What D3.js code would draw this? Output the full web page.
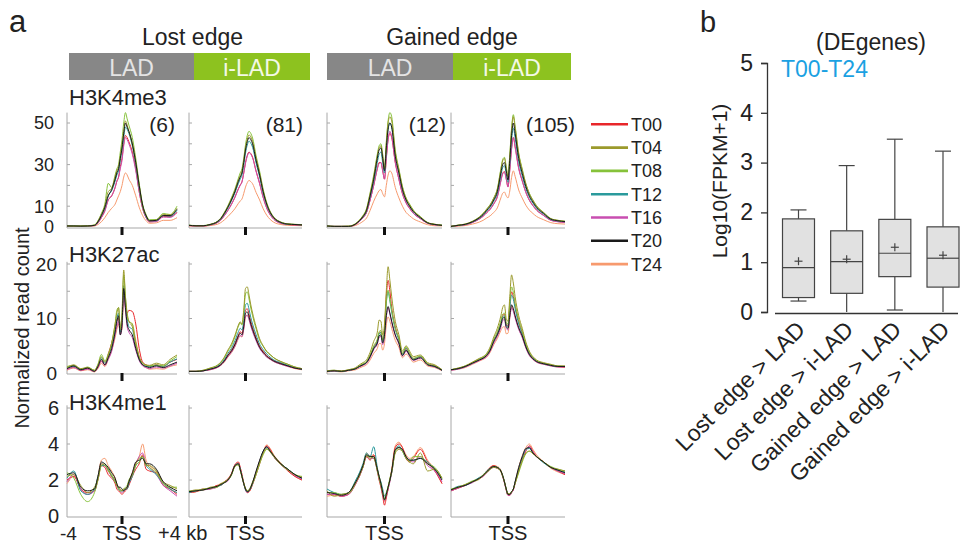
<!DOCTYPE html>
<html><head><meta charset="utf-8">
<script src="https://cdn.jsdelivr.net/npm/d3@7"></script>
<style>body{margin:0;background:#fff;} svg{display:block;font-family:"Liberation Sans",Arial,sans-serif;}</style>
</head><body><svg id="c" width="960" height="547"></svg>
<script>
// ---------------- DATA ----------------
const timepoints = ["T00","T04","T08","T12","T16","T20","T24"];
const xKb = [-4,-3.5,-3,-2.5,-2,-1.75,-1.5,-1.25,-1,-0.75,-0.5,-0.375,-0.25,-0.125,0,0.125,0.25,0.375,0.5,0.75,1,1.25,1.5,1.75,2,2.5,3,3.5,4];
const marks = ["H3K4me3","H3K27ac","H3K4me1"];
const edgeGroups = ["Lost edge","Gained edge"];
const domainLabels = ["LAD","i-LAD"];
const geneCounts = ["(6)","(81)","(12)","(105)"];
const k4me3Ticks = [0,10,30,50];
const k27acTicks = [0,10,20];
const k4me1Ticks = [0,2,4,6];

// H3K4me3, series order T00,T04,T08,T12,T16,T20,T24
const k4me3_lostLAD = [
 [0.4,0.4,0.4,0.5,0.7,2,4.5,8,13,15,19,22,24,29,33,40,44,43,41,36,28,17,9,4.5,2.5,2.8,5,5,7],
 [0.5,0.4,0.5,0.5,0.9,2.8,6,10,17,18.5,24,27,29,34,39,46,51,49,46,40,31,20,10,5.5,3,3.4,6,5.8,9],
 [0.6,0.5,0.5,0.6,1,3,6.5,11,21,19,25,28,30,36,42,50,55,52,49,43,33,21,11,6,3.5,3.6,6.5,6,10],
 [0.5,0.5,0.5,0.5,0.8,2.4,5.5,9,15,17.5,22,25,27,32,37,43,48,47,45,39,30,19,10,5,3,3,5.5,5.2,8],
 [0.4,0.4,0.4,0.5,0.7,2,4.5,7.5,13,15,19,22,24,28,32,39,43,42,40,35,27,17,9,4.5,2.5,2.6,4.8,4.6,7],
 [0.5,0.5,0.4,0.5,0.8,2.5,5.5,9.5,15,18,23,26,28,33,38,45,50,48,46,40,31,20,10.5,5.5,3,3.2,5.5,5.5,8.5],
 [0.3,0.3,0.3,0.4,0.5,1.2,2.5,4.5,7,9,11,13,15,17,20,24,26,25,23,20,15,9.5,5.5,3,1.8,2,3.2,3.2,4.5]];
const k4me3_lostILAD = [
 [0.7,0.5,0.5,1,2.1,3.4,5.5,8,10.9,14.3,18.5,20.2,21.8,26,31,34.4,36,35.3,33.6,26.9,21,14.3,9.2,5.9,3.8,1.8,1.2,1,0.8],
 [0.8,0.6,0.6,1.2,2.6,4.1,6.7,9.8,13.4,17.5,22.7,24.7,26.8,32,38,42.2,44.3,43.3,41.2,33,25.8,17.5,11.3,7.2,4.6,2.3,1.5,1.2,1],
 [0.9,0.7,0.7,1.3,2.7,4.3,7,10.2,14,18.2,23.5,26,28,33,39.5,44,46,45,42.8,34.2,26.8,18.2,11.8,7.5,4.8,2.4,1.5,1.3,1.1],
 [0.8,0.6,0.6,1.1,2.4,3.8,6.2,9.1,12.5,16.3,21,23,25,29.8,35.5,39.4,41.3,40.3,38.4,30.7,24,16.3,10.6,6.7,4.3,2.1,1.3,1.2,1],
 [0.7,0.5,0.5,1,2.1,3.3,5.4,7.9,10.8,14.2,18.3,20,21.6,25.8,30.6,34,35.8,35,33.3,26.6,20.8,14.2,9.1,5.8,3.7,1.8,1.2,1,0.8],
 [0.8,0.6,0.6,1.2,2.5,4,6.5,9.5,13,17,22,24,26,31,37,41,43,42,40,32,25,17,11,7,4.5,2.2,1.4,1.2,1],
 [0.5,0.4,0.4,0.7,1.3,2.1,3.4,5,6.8,8.8,11.4,12.5,13.5,16.1,19.2,21.3,22.4,21.8,20.8,16.6,13,8.8,5.7,3.6,2.3,1.2,0.8,0.7,0.6]];
const k4me3_gainLAD = [
 [0.4,0.3,0.3,0.3,1.3,2.6,4.4,7,13,20,28,31,31,27,23,33,42,45,43,31,23,16,11.7,9,6.7,4,1.8,1.1,0.7],
 [0.5,0.3,0.3,0.4,1.6,3.2,5.3,8.5,16,24,34,38,39,34,28,40,50,53,51,36,27.5,19,13.8,10.6,8,4.8,2.1,1.3,0.8],
 [0.5,0.3,0.3,0.4,1.7,3.3,5.5,8.8,16.5,25,35,39,40,35,28,41,51,55,53,37,28,19.5,14,11,8.2,5,2.2,1.3,0.9],
 [0.5,0.3,0.3,0.3,1.5,2.9,4.8,7.8,14.5,22,31,35,36,31,26,37,47,50,48,35,26,18,13,9.8,7.4,4.4,2,1.2,0.8],
 [0.4,0.3,0.3,0.3,1.3,2.6,4.4,7,13,20,28,30.5,31,27,23,33,42,46,43.5,31,23,16,11.5,8.8,6.6,4,1.8,1,0.7],
 [0.5,0.3,0.3,0.3,1.5,3,5,8,15,23,33,37,38,33,27,38,47,50,48,34,26,18,13,10,7.5,4.5,2,1.2,0.8],
 [0.3,0.2,0.2,0.2,0.8,1.6,2.7,4.3,8,12.4,16,17.5,18,16,14.5,20,25,27,26,19,14,10,7,5.4,4,2.4,1.1,0.6,0.5]];
const k4me3_gainILAD = [
 [0.3,0.7,1.1,2.2,3.9,5.2,6.9,8.6,11.2,14.6,22.4,25.8,26.7,23.2,19.4,27.5,37.8,43,38.7,28.4,22.2,16.8,12.9,10.3,8.2,5.6,3.3,2.6,2.2],
 [0.3,0.9,1.4,2.7,4.8,6.4,8.5,10.6,13.8,18,27.6,31.8,33,28.6,24,34,46.6,53,47.7,35,27.3,20.7,15.9,12.7,10,6.9,4,3.2,2.7],
 [0.3,0.9,1.4,2.7,4.9,6.5,8.6,10.8,14,18.4,28,32.4,33.5,29,24.4,34.6,47.5,54,48.6,35.6,27.9,21,16.2,13,10.3,7,4.1,3.2,2.8],
 [0.3,0.8,1.2,2.4,4.3,5.7,7.6,9.5,12.4,16.2,24.7,28.5,29.5,25.6,21.5,30.4,41.8,47.5,42.8,31.4,24.5,18.5,14.3,11.4,9,6.2,3.6,2.9,2.5],
 [0.3,0.7,1.1,2.1,3.9,5.1,6.8,8.5,11,14.4,22,25.5,26.3,23,19.2,27.2,37.4,43,38.2,28,22,16.6,12.8,10.2,8.1,5.5,3.2,2.5,2.2],
 [0.3,0.8,1.3,2.5,4.5,6,8,10,13,17,26,30,31,27,22.6,32,44,50,45,33,25.8,19.5,15,12,9.5,6.5,3.8,3,2.6],
 [0.2,0.4,0.7,1.4,2.4,3.2,4.3,5.4,7,9.2,14,16.2,16.8,15,14,17.3,23.8,27,24.3,17.8,13.9,10.5,8.1,6.5,5.1,3.5,2.1,1.6,1.4]];

// H3K27ac
const k27ac_lostLAD = [
 [0.7,1.1,0.5,0.8,0.4,1,2.2,1.5,3.5,5.5,8,9.5,10,7.5,9,16,12.5,11,11.5,11.3,9,4.5,2,1.5,1.2,1.5,1.2,2,2.5],
 [1,1.5,0.8,1,0.5,1.5,3,2,3.2,5.5,9,11,12,8,11,18.9,14,11,9.5,8.5,5.5,3,1.8,1.5,1.4,1.8,1.5,2.5,3.3],
 [1.2,1.4,0.7,1.1,0.5,1.6,3.4,2.2,3.5,5.5,9,11.5,12,8.5,10.5,18,14,10.5,9.5,9,5.5,2.8,1.8,1.4,1.3,1.5,1.3,2.2,3],
 [0.9,1.2,0.6,1,0.4,1.3,2.8,1.8,3,5,8,10,11,7.5,9.5,16,13,10,8.5,8,5,2.6,1.6,1.2,1.2,1.4,1.2,2,2.6],
 [0.6,1,0.5,0.7,0.3,1,2.2,1.4,2.5,4,7,8.5,9.5,7,8.5,15,11.5,8.5,7.5,6.5,4.2,2.3,1.3,1,0.8,1.1,0.9,1.3,1.8],
 [0.8,1.3,0.6,0.9,0.3,1.2,2.5,1.5,2.8,4.5,7.5,9.5,10.5,7,9,15.5,12,9,8,7,4.5,2.5,1.5,1.2,1,1.3,1,1.5,2],
 [0.5,0.9,0.4,0.6,0.2,0.8,1.8,1.2,2.5,4.2,6.5,8,9,7.5,8,14.5,12,10,9.5,9,6,3,1.5,1,0.7,0.8,0.7,1.2,1.5]];
const k27ac_lostILAD = [
 [0.3,0.3,0.4,0.7,1.1,1.6,2.3,3.3,4.2,5.4,7,7.6,7.3,8.9,11.5,11.8,10.8,9.5,8.4,6.5,4.9,4,3.2,2.7,2.3,1.8,1.3,0.9,0.7],
 [0.3,0.3,0.5,0.9,1.4,2,2.9,4.2,5.3,6.9,8.8,9.4,9,11.5,15.5,15.8,14.3,12.5,11,8.5,6.3,5,4,3.4,2.8,2.1,1.6,1.1,0.8],
 [0.3,0.3,0.5,0.9,1.4,1.9,2.8,4,5,6.6,8.6,9.2,8.8,11,14.5,14.9,13.6,11.9,10.5,8.1,6,4.9,3.9,3.3,2.8,2.1,1.6,1.1,0.8],
 [0.3,0.3,0.4,0.8,1.2,1.7,2.5,3.6,4.5,5.9,7.6,8.2,7.9,9.6,12.5,12.8,11.7,10.2,9,7,5.3,4.3,3.5,2.9,2.4,1.9,1.4,1,0.7],
 [0.3,0.3,0.4,0.6,1,1.4,2.1,3,3.8,4.9,6.5,6.9,6.7,8.1,10.4,10.6,9.8,8.6,7.6,5.9,4.5,3.6,2.9,2.5,2.1,1.6,1.2,0.9,0.7],
 [0.3,0.3,0.4,0.7,1.1,1.5,2.2,3.2,4,5.2,6.8,7.3,7,8.5,11,11.2,10.3,9,8,6.2,4.7,3.8,3.1,2.6,2.2,1.7,1.3,0.9,0.7],
 [0.3,0.3,0.4,0.6,1,1.4,2,2.9,3.7,4.8,6.3,6.8,6.6,8,10.2,10.6,9.9,8.8,7.8,6.2,4.8,3.8,3,2.5,2.1,1.6,1.2,0.8,0.6]];
const k27ac_gainLAD = [
 [0.3,0.4,0.3,0.5,0.8,1.2,1.6,2,3.2,4.7,6,7.3,7.5,6,8,14,17,15,12,8.5,6.2,3.5,4.5,3.5,2.6,3,1.7,1.3,0.5],
 [0.4,0.5,0.4,0.6,1,1.5,1.9,2.4,3.8,5.8,7.5,9.7,9.5,7,9,15,19.5,17,14,9.5,7,4,5,4,3,3.3,1.9,1.5,0.6],
 [0.4,0.5,0.3,0.6,0.9,1.3,1.7,2.1,3.3,5,6.2,7.6,7.8,6,7.8,13,15.2,13.5,11.5,8.2,6.3,3.6,4.8,3.6,2.7,3.1,1.7,1.3,0.6],
 [0.3,0.4,0.3,0.5,0.8,1.2,1.6,2,3.1,4.6,5.8,7.2,7.4,5.8,7.5,12.8,14.9,13.2,11.2,8,6,3.4,4.6,3.4,2.5,3,1.6,1.2,0.5],
 [0.3,0.4,0.3,0.5,0.8,1.1,1.4,1.8,2.8,4.3,5.3,6.5,6.7,5.2,6.6,10.2,12,10.8,9.3,6.9,5.3,3.1,4,3.1,2.3,2.7,1.5,1.1,0.5],
 [0.3,0.4,0.3,0.5,0.8,1.2,1.5,1.9,3,4.5,5.5,6.8,7,5.5,7,10.5,12.2,11,9.5,7,5.5,3.2,4.2,3.2,2.4,2.8,1.5,1.2,0.5],
 [0.2,0.3,0.2,0.4,0.6,0.9,1.2,1.5,2.4,3.6,4.5,5.4,5.4,4.2,5.4,8.8,10.3,9.5,8.2,6,4.7,2.8,3.5,2.8,2,2.4,1.3,1,0.4]];
const k27ac_gainILAD = [
 [0.6,0.8,1.2,1.9,2.5,2.8,3.3,4.4,6,7.3,9.2,10.5,10.8,9,8.7,12.4,14.9,14,12.3,9.4,7.4,5.1,3.6,2.7,2.2,1.7,1.4,1.2,1.1],
 [0.6,0.9,1.3,2,2.7,3,3.6,4.8,6.6,8.2,10.5,12,12.5,10,9.5,14,18,16.5,14,10.5,8.2,5.7,4,3,2.4,1.9,1.6,1.3,1.3],
 [0.6,0.9,1.3,1.9,2.6,2.9,3.4,4.5,6.2,7.6,9.6,10.8,11,9.2,9,13,15.8,14.8,12.8,9.8,7.7,5.4,3.8,2.9,2.3,1.8,1.5,1.3,1.2],
 [0.6,0.8,1.2,1.8,2.5,2.8,3.3,4.3,6,7.2,9,10.3,10.5,8.8,8.5,11.9,14.3,13.5,11.8,9,7.1,5,3.5,2.7,2.2,1.7,1.4,1.2,1.2],
 [0.5,0.7,1.1,1.7,2.3,2.6,3,4,5.5,6.7,8.4,9.6,9.8,8.2,7.9,10.2,12,11.3,10.1,8,6.5,4.6,3.2,2.5,2,1.6,1.3,1.1,1.1],
 [0.6,0.8,1.2,1.8,2.4,2.7,3.2,4.2,5.8,7,8.8,10,10.2,8.5,8.2,10.5,12.5,11.8,10.5,8.3,6.8,4.8,3.4,2.6,2.1,1.7,1.4,1.2,1.2],
 [0.5,0.7,1,1.6,2.2,2.5,2.9,3.8,5.2,6.3,7.8,8.4,8.5,7.2,7.3,10,12.2,11.6,10.4,8.2,6.6,4.7,3.3,2.5,2,1.6,1.3,1.1,1]];

// H3K4me1
const k4me1_lostLAD = [
 [2.0,2.2,1.5,1.3,1.4,2,2.8,2.7,2.3,2.1,1.8,1.5,1.4,1.3,1.2,1.3,1.4,1.5,1.7,2.2,2.6,2.9,3.4,2.6,2.5,2.4,1.7,1.5,1.2],
 [2.2,2.3,1.7,1.3,1.6,2.1,2.9,2.8,2.6,2.2,2,1.7,1.6,1.5,1.4,1.5,1.5,1.6,1.9,2.3,2.9,3.2,3.3,2.8,2.8,2.5,1.9,1.7,1.5],
 [2.4,2.1,1.2,0.8,1.3,2,2.8,2.9,2.5,2.3,1.9,1.7,1.5,1.4,1.4,1.5,1.6,1.7,2,2.3,2.8,3,3.3,2.9,2.7,2.4,1.8,1.6,1.6],
 [2.1,2.5,1.4,1.2,1.5,2.2,2.8,2.8,2.6,2.2,1.9,1.7,1.5,1.4,1.4,1.4,1.5,1.5,1.8,2.2,2.8,3,3.3,2.8,2.6,2.3,1.8,1.5,1.3],
 [1.9,2.3,1.5,1.2,1.4,2.1,2.9,2.8,2.5,2.2,2,1.7,1.5,1.4,1.3,1.4,1.5,1.6,1.8,2.3,2.9,3.3,3.5,2.9,2.7,2.3,1.7,1.4,1.1],
 [2.3,2.4,1.6,1.4,1.5,2.2,3,2.9,2.7,2.4,2.1,1.8,1.6,1.6,1.5,1.4,1.5,1.6,1.9,2.4,3,3.1,3.2,2.9,2.9,2.6,1.9,1.6,1.4],
 [1.8,2.2,1.5,1.2,1.4,2.2,3.1,3.2,2.8,2.5,2.1,1.8,1.6,1.5,1.4,1.4,1.5,1.6,1.9,2.4,2.9,3.3,4,3.1,2.8,2.5,1.8,1.5,1.3]];
const k4me1_lostILAD = [
 [1.3,1.35,1.5,1.5,1.7,1.7,1.9,2.05,2.35,2.85,3,2.7,2.3,1.85,1.5,1.3,1.35,1.5,1.75,2.3,2.9,3.5,3.9,3.7,3.3,2.9,2.5,2.2,2.0],
 [1.35,1.45,1.45,1.6,1.65,1.8,1.85,2,2.3,2.75,2.85,2.55,2.15,1.8,1.5,1.4,1.45,1.65,1.9,2.4,3,3.5,3.75,3.55,3.3,2.85,2.55,2.3,2.15],
 [1.4,1.4,1.5,1.55,1.6,1.75,1.9,2,2.25,2.75,2.85,2.55,2.2,1.85,1.55,1.4,1.45,1.6,1.8,2.3,2.9,3.4,3.7,3.6,3.35,2.9,2.6,2.3,2.2],
 [1.3,1.4,1.45,1.55,1.65,1.7,1.85,2,2.3,2.8,2.9,2.6,2.2,1.8,1.45,1.35,1.4,1.55,1.8,2.4,3,3.6,3.8,3.6,3.3,2.9,2.6,2.3,2.1],
 [1.35,1.4,1.45,1.5,1.6,1.75,1.85,1.95,2.3,2.8,2.9,2.65,2.2,1.8,1.45,1.3,1.4,1.55,1.8,2.45,3.05,3.55,3.85,3.6,3.3,2.85,2.55,2.25,2.05],
 [1.35,1.4,1.45,1.55,1.65,1.75,1.85,2,2.3,2.8,2.9,2.6,2.2,1.8,1.5,1.35,1.4,1.6,1.85,2.5,3.1,3.6,3.85,3.6,3.35,2.9,2.6,2.3,2.1],
 [1.3,1.35,1.45,1.55,1.7,1.8,1.9,2.05,2.35,2.85,2.95,2.7,2.3,1.85,1.5,1.3,1.35,1.5,1.8,2.4,3,3.55,3.95,3.75,3.4,2.95,2.55,2.2,2.0]];
const k4me1_gainLAD = [
 [1.2,1.2,1.1,1.2,1.8,2.2,2.7,3.3,3.1,3.4,2.5,2,1.6,1.1,0.6,1,1.5,2,2.5,3.8,4,3.8,3.2,3.0,3.2,3.7,3.0,2.5,1.8],
 [1.4,1.1,1.2,1.3,1.9,2.2,2.8,3.3,3.3,3.2,2.6,2.2,1.8,1.3,0.9,1.2,1.6,2.0,2.4,3.5,3.7,3.6,3.2,3.0,2.9,3.5,2.5,2.6,2.1],
 [1.3,1.3,1.2,1.25,1.85,2.3,2.7,3.4,3.2,3.3,2.5,2.1,1.7,1.3,0.95,1.25,1.65,2.1,2.5,3.6,3.8,3.6,3.3,3.0,3.3,3.3,2.9,2.7,2.1],
 [1.5,1.3,1.2,1.3,2,2.4,2.9,3.5,3.3,3.85,2.7,2.2,1.9,1.5,1.1,1.3,1.6,2.0,2.4,3.6,3.9,3.6,3.2,3.1,3.1,3.2,3,2.6,2.1],
 [1.2,1.2,1.1,1.2,1.8,2.2,2.7,3.3,3.2,3.2,2.5,2.1,1.7,1.2,0.85,1.1,1.5,1.9,2.4,3.6,3.8,3.7,3.3,3.1,3,3.3,2.8,2.5,1.9],
 [1.3,1.25,1.15,1.3,1.9,2.3,2.8,3.4,3.3,3.3,2.6,2.2,1.8,1.3,0.9,1.2,1.6,2,2.5,3.7,3.8,3.7,3.3,3.1,3.1,3.2,2.9,2.6,2.0],
 [1.1,1.15,1.1,1.25,1.8,2.3,2.8,3.5,3.3,3.4,2.6,2.1,1.7,1.2,0.8,1.1,1.5,2,2.6,3.9,4.1,3.8,3.4,3.2,3.3,3.8,3.1,2.6,1.8]];
const k4me1_gainILAD = [
 [1.4,1.55,1.7,1.9,2.1,2.2,2.45,2.7,2.8,2.7,2.5,2.2,1.85,1.45,1.15,1.15,1.3,1.45,1.8,2.5,3.1,3.6,3.9,3.6,3.3,3.0,2.7,2.5,2.3],
 [1.45,1.6,1.75,1.9,2.05,2.25,2.4,2.6,2.7,2.65,2.45,2.2,1.9,1.5,1.25,1.25,1.35,1.5,1.85,2.5,3.1,3.5,3.6,3.45,3.3,3.0,2.7,2.6,2.5],
 [1.5,1.6,1.75,1.95,2.1,2.3,2.45,2.6,2.75,2.7,2.5,2.25,1.9,1.5,1.2,1.2,1.35,1.5,1.8,2.4,3,3.45,3.6,3.5,3.3,3.0,2.75,2.6,2.5],
 [1.45,1.65,1.7,1.9,2.15,2.25,2.5,2.65,2.75,2.7,2.5,2.25,1.9,1.5,1.2,1.2,1.35,1.5,1.9,2.6,3.2,3.7,3.75,3.5,3.3,2.95,2.7,2.55,2.45],
 [1.4,1.55,1.7,1.85,2.1,2.2,2.4,2.6,2.7,2.65,2.5,2.2,1.85,1.45,1.15,1.15,1.3,1.45,1.85,2.6,3.2,3.7,3.85,3.55,3.3,3.0,2.7,2.5,2.35],
 [1.45,1.6,1.7,1.9,2.1,2.25,2.45,2.65,2.75,2.7,2.5,2.25,1.9,1.5,1.2,1.2,1.35,1.5,1.9,2.7,3.3,3.75,3.8,3.5,3.3,3.0,2.7,2.55,2.4],
 [1.4,1.55,1.7,1.9,2.1,2.25,2.5,2.7,2.8,2.75,2.55,2.25,1.9,1.45,1.15,1.15,1.3,1.5,1.9,2.7,3.35,3.8,4.0,3.7,3.4,3.0,2.65,2.45,2.3]];

// Panel b: box plot statistics (log10(FPKM+1))
const boxCategories = ["Lost edge > LAD","Lost edge > i-LAD","Gained edge > LAD","Gained edge > i-LAD"];
const boxMin = [0.22,0,0.04,0];
const boxQ1 = [0.29,0.375,0.71,0.5];
const boxMedian = [0.89,1.01,1.18,1.08];
const boxQ3 = [1.87,1.63,1.86,1.71];
const boxMax = [2.05,2.94,3.47,3.23];
const boxMean = [1.02,1.06,1.30,1.14];
const boxTicks = [0,1,2,3,4,5];

// ---------------- STYLE / LAYOUT ----------------
const colors = {T00:"#e8262a",T04:"#9b9a2c",T08:"#86c23a",T12:"#2a9a9c",T16:"#c84eb0",T20:"#1a1a1a",T24:"#f79a6e"};
const drawOrder = ["T24","T00","T16","T12","T08","T04","T20"];
const svg = d3.select("#c");
const cols = [[67,177],[189,302],[327,442],[451,565]];
const rowDefs = [
  {name:marks[0], data:[k4me3_lostLAD,k4me3_lostILAD,k4me3_gainLAD,k4me3_gainILAD], dom:[0,55], rng:[227,112.6], top:55, minor:[10,20,30,40,50], ticks:k4me3Ticks, labX:54, nameY:105, fs:18},
  {name:marks[1], data:[k27ac_lostLAD,k27ac_lostILAD,k27ac_gainLAD,k27ac_gainILAD], dom:[0,20], rng:[373,264], top:20.4, minor:[5,10,15,20], ticks:k27acTicks, labX:57, nameY:262, fs:19},
  {name:marks[2], data:[k4me1_lostLAD,k4me1_lostILAD,k4me1_gainLAD,k4me1_gainILAD], dom:[0,6], rng:[516,408], top:6.15, minor:[2,4,6], ticks:k4me1Ticks, labX:59, nameY:410, fs:20}
];
const axisGray = "#a8a8a8";

// panel label a
svg.append("text").attr("x",9).attr("y",32).attr("font-size",31).attr("fill","#222").text("a");

// header bars
const headerDefs = [
  {title:edgeGroups[0], cx:192.5, bars:[[69,194],[194,310]]},
  {title:edgeGroups[1], cx:452, bars:[[327,453],[453,571]]}
];
headerDefs.forEach(h=>{
  svg.append("text").attr("x",h.cx).attr("y",45).attr("text-anchor","middle").attr("font-size",23).attr("fill","#222").text(h.title);
  h.bars.forEach((b,i)=>{
    svg.append("rect").attr("x",b[0]).attr("y",53).attr("width",b[1]-b[0]).attr("height",27)
      .attr("fill", i===0?"#878787":"#8dc21f");
    svg.append("text").attr("x",(b[0]+b[1])/2).attr("y",76).attr("text-anchor","middle")
      .attr("font-size",23).attr("fill", i===0?"#e4e4e4":"#f4f9e6").text(domainLabels[i]);
  });
});

rowDefs.forEach((r,ri)=>{
  svg.append("text").attr("x",69).attr("y",r.nameY).attr("font-size",22).attr("fill","#222").text(r.name);
  cols.forEach((c,ci)=>{
    const x = d3.scaleLinear().domain([-4,4]).range(c);
    const y = d3.scaleLinear().domain(r.dom).range(r.rng);
    const g = svg.append("g");
    const axisY = y(0)+1;
    // left axis line + minor ticks
    g.append("line").attr("x1",c[0]).attr("x2",c[0]).attr("y1",y(r.top)).attr("y2",axisY).attr("stroke",axisGray).attr("stroke-width",1);
    g.selectAll(".mt").data(r.minor).enter().append("line")
      .attr("x1",c[0]).attr("x2",c[0]+3).attr("y1",d=>y(d)).attr("y2",d=>y(d)).attr("stroke",axisGray);
    // bottom axis
    g.append("line").attr("x1",c[0]).attr("x2",c[1]).attr("y1",axisY).attr("y2",axisY).attr("stroke",axisGray).attr("stroke-width",1.2);
    // lines
    const line = d3.line().x((d,i)=>x(xKb[i])).y(d=>y(d)).curve(d3.curveMonotoneX);
    drawOrder.forEach(tp=>{
      const s = r.data[ci][timepoints.indexOf(tp)];
      g.append("path").attr("d",line(s)).attr("fill","none").attr("stroke",colors[tp]).attr("stroke-width",1).attr("stroke-linejoin","round");
    });
    // TSS tick
    g.append("rect").attr("x",x(0)-1.5).attr("y",axisY-1).attr("width",3).attr("height",8).attr("fill","#111");
    // y labels on first column
    if(ci===0){
      g.selectAll(".yl").data(r.ticks).enter().append("text")
        .attr("x",r.labX).attr("y",d=>y(d)).attr("dy","0.36em").attr("text-anchor","end")
        .attr("font-size",r.fs).attr("fill","#222").text(d=>d);
    }
    if(ri===0){
      const rx=[175,303,446,575][ci];
      g.append("text").attr("x",rx).attr("y",132).attr("text-anchor","end").attr("font-size",21).attr("fill","#222").text(geneCounts[ci]);
    }
    if(ri===2){
      g.append("text").attr("x",x(0)).attr("y",540).attr("text-anchor","middle").attr("font-size",20).attr("fill","#222").text("TSS");
      if(ci===0){
        g.append("text").attr("x",60).attr("y",540).attr("text-anchor","start").attr("font-size",19).attr("fill","#222").text("-4");
        g.append("text").attr("x",158).attr("y",540).attr("font-size",20).attr("fill","#222").text("+4 kb");
      }
    }
  });
});

// y-axis title panel a
svg.append("text").attr("transform","translate(29,328) rotate(-90)").attr("text-anchor","middle")
  .attr("font-size",20).attr("fill","#222").text("Normalized read count");

// legend
timepoints.forEach((tp,i)=>{
  const ly = 124.3 + i*23.3;
  svg.append("line").attr("x1",591).attr("x2",628).attr("y1",ly).attr("y2",ly).attr("stroke",colors[tp]).attr("stroke-width",2.6);
  svg.append("text").attr("x",631).attr("y",ly).attr("dy","0.36em").attr("font-size",18).attr("fill","#222").text(tp);
});

// ---------------- PANEL b ----------------
svg.append("text").attr("x",700).attr("y",32).attr("font-size",29).attr("fill","#222").text("b");
svg.append("text").attr("x",871).attr("y",50).attr("text-anchor","middle").attr("font-size",23).attr("fill","#222").text("(DEgenes)");
svg.append("text").attr("x",781).attr("y",77).attr("font-size",23).attr("fill","#1ba1e2").text("T00-T24");

const by = d3.scaleLinear().domain([0,5]).range([312,63]);
const bx = d3.scalePoint().domain(boxCategories).range([798.5,943]);
const bAxis = svg.append("g").attr("transform","translate(767,0)")
  .call(d3.axisLeft(by).tickValues(boxTicks).tickSize(6).tickPadding(8).tickFormat(d3.format("d")));
bAxis.select(".domain").attr("stroke","#333").attr("stroke-width",1.3);
bAxis.selectAll(".tick line").attr("stroke","#333").attr("stroke-width",1.3);
bAxis.selectAll("text").attr("font-size",23).attr("fill","#222").attr("font-family","Liberation Sans, Arial, sans-serif");
svg.append("line").attr("x1",775).attr("x2",958).attr("y1",313.5).attr("y2",313.5).attr("stroke","#333").attr("stroke-width",1.5);
svg.append("text").attr("transform","translate(727,181) rotate(-90)").attr("text-anchor","middle")
  .attr("font-size",21).attr("fill","#222").text("Log10(FPKM+1)");

const bw = 32, cap = 16;
boxCategories.forEach((cat,i)=>{
  const cx = bx(cat);
  const g = svg.append("g").attr("stroke","#444").attr("stroke-width",1.2);
  g.append("line").attr("x1",cx).attr("x2",cx).attr("y1",by(boxMax[i])).attr("y2",by(boxQ3[i]));
  g.append("line").attr("x1",cx).attr("x2",cx).attr("y1",by(boxQ1[i])).attr("y2",by(boxMin[i]));
  g.append("line").attr("x1",cx-cap/2).attr("x2",cx+cap/2).attr("y1",by(boxMax[i])).attr("y2",by(boxMax[i]));
  if(boxMin[i]>0) g.append("line").attr("x1",cx-cap/2).attr("x2",cx+cap/2).attr("y1",by(boxMin[i])).attr("y2",by(boxMin[i]));
  g.append("rect").attr("x",cx-bw/2).attr("y",by(boxQ3[i])).attr("width",bw).attr("height",by(boxQ1[i])-by(boxQ3[i])).attr("fill","#e1e1e1");
  g.append("line").attr("x1",cx-bw/2).attr("x2",cx+bw/2).attr("y1",by(boxMedian[i])).attr("y2",by(boxMedian[i]));
  const my = by(boxMean[i]);
  g.append("line").attr("x1",cx-4).attr("x2",cx+4).attr("y1",my).attr("y2",my);
  g.append("line").attr("x1",cx).attr("x2",cx).attr("y1",my-4).attr("y2",my+4);
  svg.append("text").attr("transform",`translate(${cx+8},331) rotate(-45)`).attr("text-anchor","end")
    .attr("font-size",23).attr("fill","#222").text(cat);
});
</script></body></html>
